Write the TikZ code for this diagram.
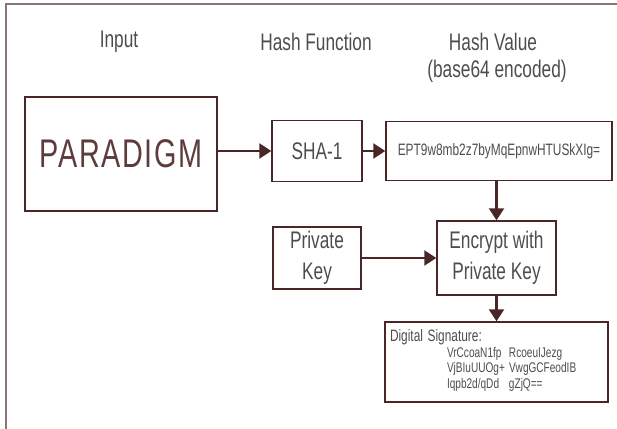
\documentclass[tikz,border=0pt]{standalone}
\usepackage{fontspec}
\setmainfont{Liberation Sans}[FakeStretch=0.72]
\usepackage{tikz}
\usetikzlibrary{arrows.meta,positioning}
\definecolor{linec}{HTML}{4A2626}
\definecolor{framec}{HTML}{8C7474}
\definecolor{txtc}{HTML}{4D4D4D}
\definecolor{wordc}{HTML}{5E3C3C}
\tikzset{
  ar/.style={-{Triangle[length=12pt,width=15pt]},line width=2.4pt,linec},
  box/.style={draw=linec,line width=1.4pt,align=center,inner sep=0pt,text=txtc,font=\fontsize{24}{31}\selectfont},
  ttl/.style={text=txtc,font=\fontsize{24}{28}\selectfont}
}

\begin{document}
\begin{tikzpicture}[x=1pt,y=-1pt]
\useasboundingbox (0,0) rectangle (617,428);
\draw[framec,line width=2pt] (6,440)--(6,4)--(630,4);
% column titles
\node[ttl] (tin) at (119,42) {Input};
\node[ttl] (tfun) at (316,42) {Hash Function};
\node[ttl] (tval) at (493,42) {Hash Value};
\node[ttl] (tenc) at (497,71) {(base64 encoded)};
% boxes
\node[box,minimum width=192,minimum height=114,text=wordc,font=\fontsize{40}{42}\selectfont\addfontfeatures{LetterSpace=4}] (input) at (121,154) {PARADIGM};
\node[box,minimum width=90,minimum height=61] (sha) at (317,151) {SHA-1};
\node[box,minimum width=226,minimum height=59,font=\fontsize{16.5}{19}\selectfont] (hash) at (499,151) {EPT9w8mb2z7byMqEpnwHTUSkXIg=};
\node[box,minimum width=119,minimum height=74] (enc) at (496.5,258) {Encrypt with\\Private Key};
\node[box,minimum width=88,minimum height=62] (pk) at (317,258) {Private\\Key};
\node[box,minimum width=223,minimum height=80,text width=213,align=left,inner sep=5pt,font=\fontsize{14}{15.5}\selectfont] (sig) at (496.5,362)
  {{\fontsize{16.5}{16.5}\selectfont Digital Signature:}\\
   \hspace*{57pt}\makebox[62pt][l]{VrCcoaN1fp}RcoeuIJezg\\
   \hspace*{57pt}\makebox[62pt][l]{VjBIuUUOg+}VwgGCFeodIB\\
   \hspace*{57pt}\makebox[62pt][l]{Iqpb2d/qDd}gZjQ==\rule[-6pt]{0pt}{0pt}};
% arrows
\draw[ar] (input.east |- sha.west) -- (sha.west);
\draw[ar] (sha.east) -- (hash.west);
\draw[ar] (hash.south -| enc.north) -- (enc.north);
\draw[ar] (pk.east) -- (enc.west |- pk.east);
\draw[ar] (enc.south) -- (enc.south |- sig.north);
\end{tikzpicture}
\end{document}
